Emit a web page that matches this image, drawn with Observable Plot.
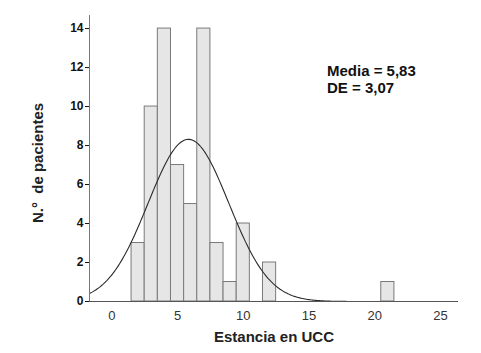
<!DOCTYPE html>
<html>
<head>
<meta charset="utf-8">
<script src="https://cdn.jsdelivr.net/npm/d3@7"></script>
<script src="https://cdn.jsdelivr.net/npm/@observablehq/plot@0.6"></script>
<style>
  html, body { margin: 0; padding: 0; background: #fff; }
  #chart svg { display: block; }
</style>
</head>
<body>
<div id="chart"></div>
<script>
// Data
const days = [2, 3, 4, 5, 6, 7, 8, 9, 10, 12, 21];
const counts = [3, 10, 14, 7, 5, 14, 3, 1, 4, 2, 1];
const media = 5.83;
const de = 3.07;
const xTicks = [0, 5, 10, 15, 20, 25];
const yTicks = [0, 2, 4, 6, 8, 10, 12, 14];
const xDomain = [-1.7, 26.3];
const yDomain = [0, 14.67];
const xLabel = "Estancia en UCC";
const yLabel = "N.°  de pacientes";

const bars = days.map((d, i) => ({day: d, count: counts[i]}));
const n = d3.sum(counts);

// Fitted normal curve from the stated mean and SD, scaled to the counts (bin width 1)
const curveX = d3.range(xDomain[0], xDomain[1] + 0.001, 0.1);
const curve = curveX.map(x => ({
  x,
  y: n / (de * Math.sqrt(2 * Math.PI)) * Math.exp(-((x - media) ** 2) / (2 * de * de))
}));

const fmt = v => v.toFixed(2).replace(".", ",");
const font = "'Liberation Sans', Arial, sans-serif";

const plot = Plot.plot({
  width: 481,
  height: 353,
  marginLeft: 89,
  marginRight: 24,
  marginTop: 15,
  marginBottom: 52,
  style: {fontFamily: font, background: "#fff"},
  x: {domain: xDomain},
  y: {domain: yDomain},
  marks: [
    Plot.rectY(bars, {
      x1: d => d.day - 0.5, x2: d => d.day + 0.5, y1: 0, y2: "count",
      fill: "#e6e6e6", stroke: "#7a7a7a", strokeWidth: 1
    }),
    Plot.line(curve, {x: "x", y: "y", stroke: "#2a2a2a", strokeWidth: 1.1}),
    Plot.ruleY([0], {stroke: "#555", strokeWidth: 1.2}),
    Plot.ruleX([xDomain[0]], {stroke: "#777", strokeWidth: 1}),
    Plot.axisY({ticks: yTicks, tickSize: 4, tickPadding: 2, fontSize: 12, fontWeight: "bold",
      color: "#111", label: null}),
    Plot.axisX({ticks: xTicks, tickSize: 0, tickPadding: 9, fontSize: 13, color: "#333", label: null})
  ]
});

const svg = d3.select(plot);
const ann = svg.append("g").attr("font-family", font).attr("text-anchor", "start")
  .attr("font-size", 15).attr("font-weight", "bold").attr("fill", "#111");
ann.append("text").attr("x", 327).attr("y", 76).text(`Media = ${fmt(media)}`);
ann.append("text").attr("x", 327).attr("y", 93).text(`DE = ${fmt(de)}`);

svg.append("text")
  .attr("x", 274).attr("y", 342)
  .attr("text-anchor", "middle")
  .attr("font-size", 15).attr("font-weight", "bold").attr("fill", "#222")
  .attr("font-family", font)
  .text(xLabel);

svg.append("text")
  .attr("transform", "translate(43,163) rotate(-90)")
  .attr("text-anchor", "middle")
  .attr("font-size", 15).attr("font-weight", "bold").attr("fill", "#222")
  .attr("font-family", font)
  .text(yLabel);

document.getElementById("chart").appendChild(plot);
</script>
</body>
</html>
